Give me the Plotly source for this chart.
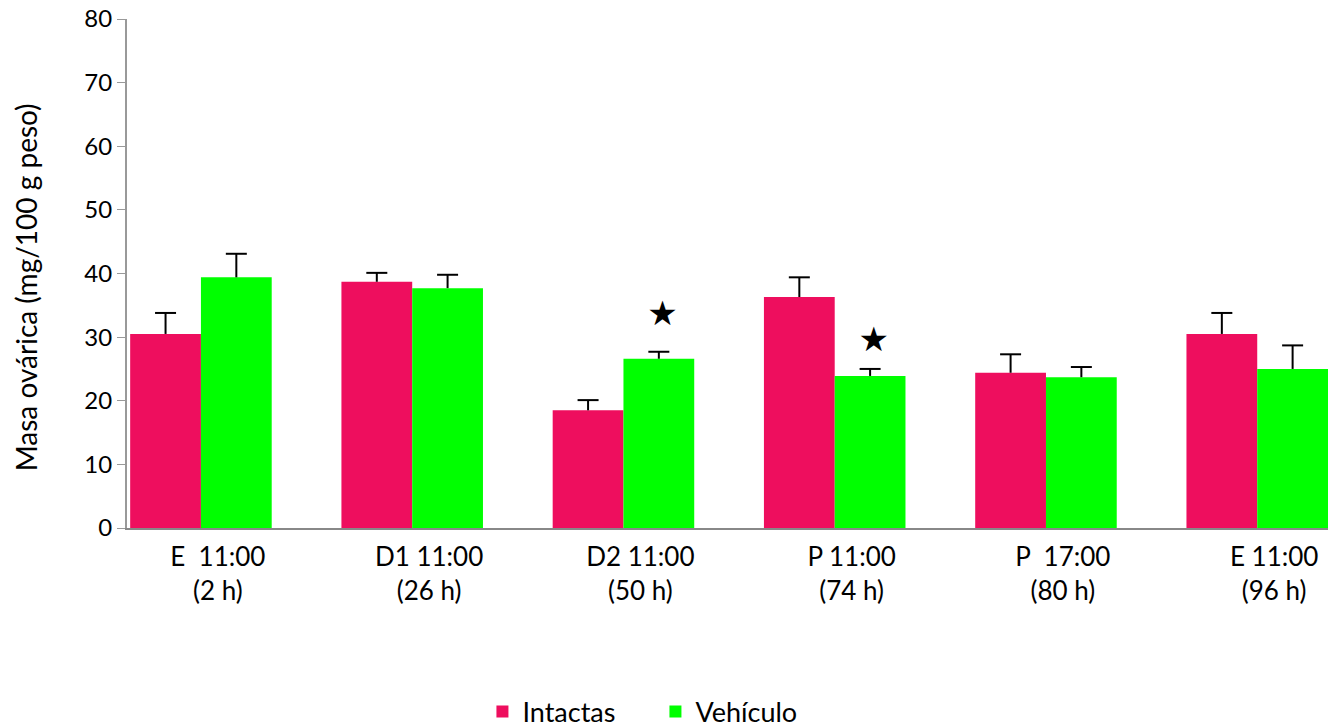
import plotly.graph_objects as go

categories = ["E  11:00<br>(2 h)", "D1 11:00<br>(26 h)", "D2 11:00<br>(50 h)",
              "P 11:00<br>(74 h)", "P  17:00<br>(80 h)", "E 11:00<br>(96 h)"]
intactas = [30.5, 38.7, 18.5, 36.3, 24.4, 30.5]
intactas_err = [3.3, 1.4, 1.6, 3.1, 2.9, 3.3]
vehiculo = [39.4, 37.7, 26.6, 23.9, 23.7, 25.0]
vehiculo_err = [3.7, 2.1, 1.1, 1.1, 1.6, 3.7]
star_idx = [2, 3]
star_val = [33.2, 29.2]

PINK = "#EE0E5E"
GREEN = "#00FF00"
FONT = "Lato"

x = list(range(len(categories)))
bar_w = 0.335


def err_traces(xc, vals, errs):
    sx, sy = [], []
    for xi, v, e in zip(xc, vals, errs):
        sx += [xi, xi, None]
        sy += [v, v + e, None]
    stem = go.Scatter(x=sx, y=sy, mode="lines", line=dict(color="black", width=2),
                      showlegend=False, hoverinfo="skip")
    cap = go.Scatter(x=xc, y=[v + e for v, e in zip(vals, errs)], mode="markers",
                     marker=dict(symbol="line-ew", size=15, line=dict(color="black", width=2)),
                     showlegend=False, hoverinfo="skip")
    return [stem, cap]


fig = go.Figure()
fig.add_trace(go.Bar(
    x=x, y=intactas, name="Intactas", marker=dict(color=PINK, line=dict(width=0)),
    width=bar_w, offset=-bar_w,
))
fig.add_trace(go.Bar(
    x=x, y=vehiculo, name="Vehículo", marker=dict(color=GREEN, line=dict(width=0)),
    width=bar_w, offset=0,
))
for t in err_traces([i - bar_w / 2 for i in x], intactas, intactas_err):
    fig.add_trace(t)
for t in err_traces([i + bar_w / 2 for i in x], vehiculo, vehiculo_err):
    fig.add_trace(t)
fig.add_trace(go.Scatter(
    x=[i + bar_w * 0.55 for i in star_idx], y=star_val, mode="text", text=["★"] * len(star_idx),
    textfont=dict(size=34, color="black", family="DejaVu Sans"), showlegend=False,
    textposition="middle center", hoverinfo="skip",
))

fig.update_layout(
    width=1335, height=727,
    margin=dict(l=127, r=7, t=19, b=199),
    plot_bgcolor="white", paper_bgcolor="white",
    font=dict(family=FONT, color="black"),
    barmode="overlay",
    legend=dict(orientation="h", x=0.44, xref="paper", y=0.0206, yref="container",
                xanchor="center", yanchor="middle",
                font=dict(size=27, family=FONT), itemwidth=30, traceorder="normal",
                entrywidth=128),
    annotations=[dict(text="Masa ovárica (mg/100 g peso)", textangle=-90,
                      xref="paper", yref="paper", x=(26 - 127) / 1201, y=0.473,
                      xanchor="center", yanchor="middle", showarrow=False,
                      font=dict(size=28, family=FONT, color="black"))],
)
fig.update_xaxes(
    range=[-0.35, 5.335], tickmode="array", tickvals=[i + 0.08 for i in x], ticktext=categories,
    showline=True, linecolor="#888888", linewidth=2, ticks="", showgrid=False, zeroline=False,
    tickfont=dict(size=26, family=FONT), ticklabelstandoff=5, automargin=False,
)
fig.update_yaxes(
    range=[0, 80], tickvals=list(range(0, 81, 10)), showline=True, linecolor="#999999",
    linewidth=2, ticks="outside", ticklen=8, tickcolor="#999999", tickwidth=1,
    showgrid=False, zeroline=False, tickfont=dict(size=24, family=FONT), automargin=False,
    ticklabeloverflow="allow",
)

fig.write_html("out.html", config={"displayModeBar": False},
               post_script="document.body.style.margin='0';")
